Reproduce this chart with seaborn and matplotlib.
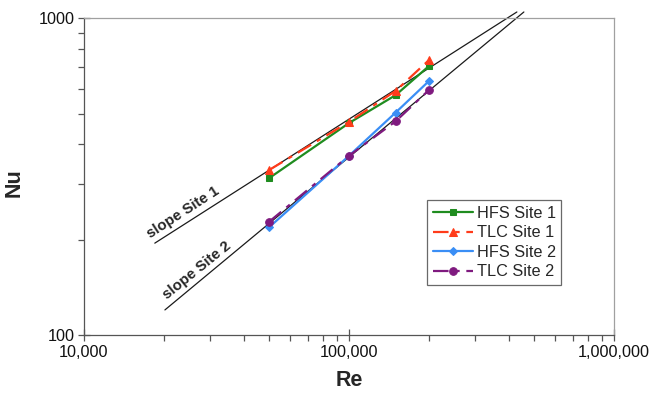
import matplotlib
matplotlib.use("Agg")
import matplotlib.pyplot as plt
import matplotlib.ticker as mticker
import numpy as np
import pandas as pd
import seaborn as sns

# ---- data ----
re_values = [50000, 100000, 150000, 200000]
hfs_site1 = [313, 467, 572, 706]
tlc_site1 = [332, 471, 590, 737]
hfs_site2 = [219, 368, 504, 633]
tlc_site2 = [228, 368, 473, 593]

slope1_re = [18500, 430000]
slope1_nu = [195, 1047]
slope2_re = [20200, 457000]
slope2_nu = [120, 1047]

series_names = ["HFS Site 1", "TLC Site 1", "HFS Site 2", "TLC Site 2"]
x_ticks = [10000, 100000, 1000000]
x_tick_labels = ["10,000", "100,000", "1,000,000"]
y_ticks = [100, 1000]
y_tick_labels = ["100", "1000"]

sns.set_theme(style="white")
plt.rcParams['font.family'] = ['Liberation Sans', 'DejaVu Sans']

fig = plt.figure(figsize=(6.53, 3.97), dpi=100)
ax = fig.add_axes([84/653, 62/397, 530/653, 316.7/397])

df = pd.DataFrame({
    "Re": re_values * 4,
    "Nu": hfs_site1 + tlc_site1 + hfs_site2 + tlc_site2,
    "series": sum([[n] * len(re_values) for n in series_names], []),
})

styles = {
    "HFS Site 1": dict(color="#1f8c1f", marker="s", ls="-", ms=5),
    "TLC Site 1": dict(color="#ff3b1a", marker="^", ls=(0, (7, 3, 2, 3)), ms=6),
    "HFS Site 2": dict(color="#3a8ef5", marker="D", ls="-", ms=4),
    "TLC Site 2": dict(color="#7f1a7f", marker="o", ls=(0, (7, 3, 2, 3)), ms=5.5),
}

# slope lines
sns.lineplot(x=slope1_re, y=slope1_nu, ax=ax, color="#1a1a1a", lw=0.9,
             clip_on=False, zorder=1)
sns.lineplot(x=slope2_re, y=slope2_nu, ax=ax, color="#1a1a1a", lw=0.9,
             clip_on=False, zorder=1)

for name in series_names:
    st = styles[name]
    sub = df[df["series"] == name]
    sns.lineplot(data=sub, x="Re", y="Nu", ax=ax, color=st["color"],
                 marker=st["marker"], markersize=st["ms"], linestyle=st["ls"],
                 markeredgecolor=st["color"], lw=1.6, label=name, zorder=3)

ax.set_xscale("log")
ax.set_yscale("log")
ax.set_xlim(10000, 1000000)
ax.set_ylim(100, 1000)

ax.xaxis.set_major_locator(mticker.FixedLocator(x_ticks))
ax.xaxis.set_major_formatter(mticker.FixedFormatter(x_tick_labels))
ax.yaxis.set_major_locator(mticker.FixedLocator(y_ticks))
ax.yaxis.set_major_formatter(mticker.FixedFormatter(y_tick_labels))
ax.xaxis.set_minor_locator(mticker.LogLocator(base=10, subs=np.arange(2, 10)))
ax.yaxis.set_minor_locator(mticker.LogLocator(base=10, subs=np.arange(2, 10)))
ax.xaxis.set_minor_formatter(mticker.NullFormatter())
ax.yaxis.set_minor_formatter(mticker.NullFormatter())

ax.tick_params(axis="both", which="major", direction="inout", length=8,
               width=0.9, color="#555555", labelsize=11.7, pad=3,
               bottom=True, left=True, labelcolor="#111111")
ax.tick_params(axis="both", which="minor", direction="out", length=4,
               width=0.9, color="#555555", bottom=True, left=True)

for side in ["left", "bottom"]:
    ax.spines[side].set_color("#555555")
    ax.spines[side].set_linewidth(0.9)
for side in ["top", "right"]:
    ax.spines[side].set_color("#a0a0a0")
    ax.spines[side].set_linewidth(0.9)

ax.set_xlabel("Re", fontsize=15.5, fontweight="bold")
ax.set_ylabel("Nu", fontsize=15.5, fontweight="bold")
ax.xaxis.set_label_coords(0.5, (335 - 370) / 316.7)
ax.yaxis.set_label_coords((25 - 84) / 530, 0.48)

ax.text(183, 397 - 212, "slope Site 1", transform=None, fontsize=10.8,
        fontweight="bold", rotation=33, ha="center", va="center")
ax.text(197, 397 - 270, "slope Site 2", transform=None, fontsize=10.8,
        fontweight="bold", rotation=39, ha="center", va="center")

leg = ax.legend(loc="upper left", bbox_to_anchor=((427 - 84) / 530, (335 - 200) / 316.7),
                frameon=True, fancybox=False, edgecolor="#444444",
                fontsize=11.7, handlelength=2.5, handletextpad=0.2,
                borderpad=0.35, labelspacing=0.28, borderaxespad=0)
leg.get_frame().set_linewidth(0.9)

fig.savefig("out.png", dpi=100)
